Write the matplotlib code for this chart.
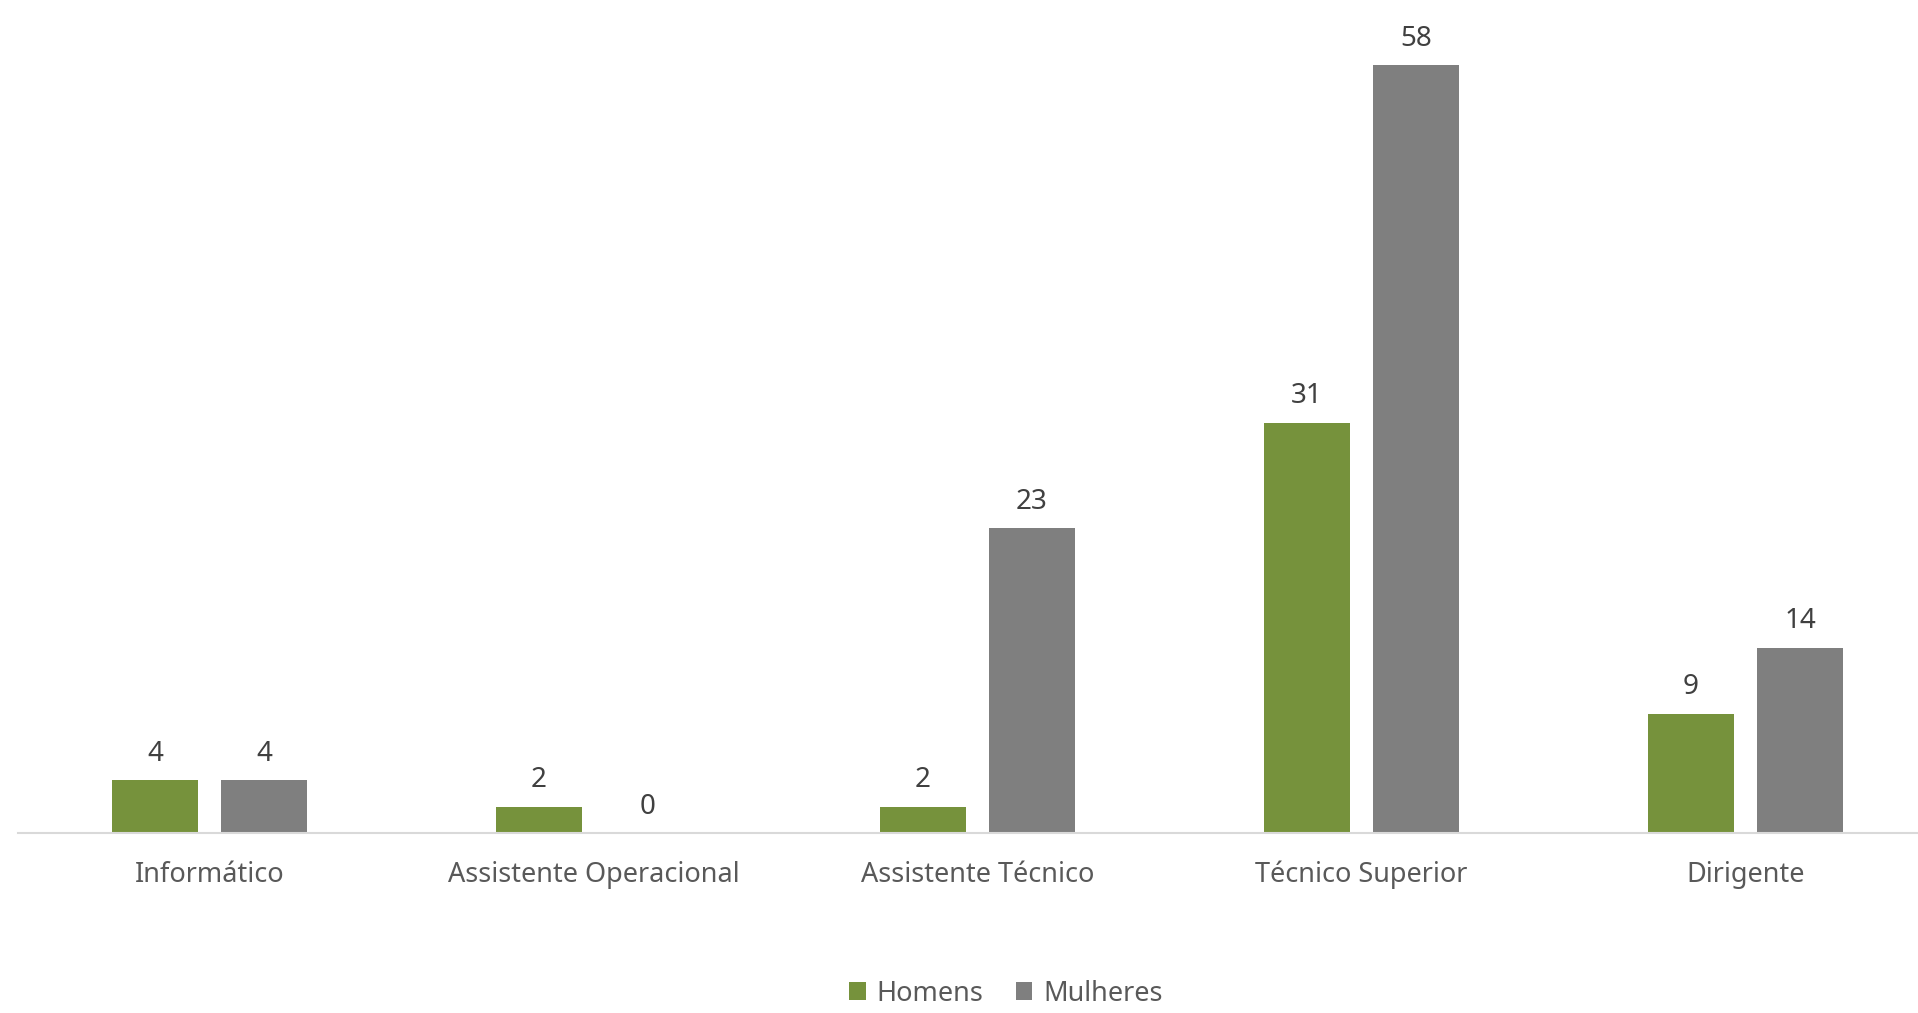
import matplotlib.pyplot as plt
import numpy as np

categories = ['Informático', 'Assistente Operacional', 'Assistente Técnico', 'Técnico Superior', 'Dirigente']
homens = [4, 2, 2, 31, 9]
mulheres = [4, 0, 23, 58, 14]

plt.rcParams['font.family'] = ['Noto Sans', 'DejaVu Sans']

fig = plt.figure(figsize=(19.18, 10.13), dpi=100)
# plot area runs slightly past the right edge, as in the original
ax = fig.add_axes([17.5 / 1918, 1 - 833 / 1013, 1920.0 / 1918, (833 - 38.5) / 1013])

x = np.arange(len(categories))
w = 0.224
off = 0.142
b1 = ax.bar(x - off, homens, w, color='#76923C', label='Homens')
b2 = ax.bar(x + off, mulheres, w, color='#7F7F7F', label='Mulheres')

for bars, vals in [(b1, homens), (b2, mulheres)]:
    for rect, v in zip(bars, vals):
        ax.annotate(str(v), (rect.get_x() + rect.get_width() / 2, v),
                    xytext=(0, 14), textcoords='offset points',
                    ha='center', va='baseline', fontsize=20, color='#404040')

ax.set_xlim(-0.5, 4.5)
ax.set_ylim(0, 60)
ax.set_xticks(x)
ax.set_xticklabels(categories, fontsize=19.5, color='#595959')
ax.tick_params(axis='x', length=0, pad=20)
ax.set_yticks([])
for s in ['top', 'right', 'left']:
    ax.spines[s].set_visible(False)
ax.spines['bottom'].set_color('#D9D9D9')
ax.spines['bottom'].set_linewidth(1.5)

# legend at the bottom, kept fully inside the figure
fig.legend(loc='lower center', bbox_to_anchor=(1006 / 1918, 0.0), ncol=2, frameon=False,
           fontsize=19.5, labelcolor='#595959', handlelength=0.6, handleheight=0.6,
           handletextpad=0.4, columnspacing=1.2, borderaxespad=0.1, borderpad=0.1)

fig.savefig('out.png', dpi=100)
